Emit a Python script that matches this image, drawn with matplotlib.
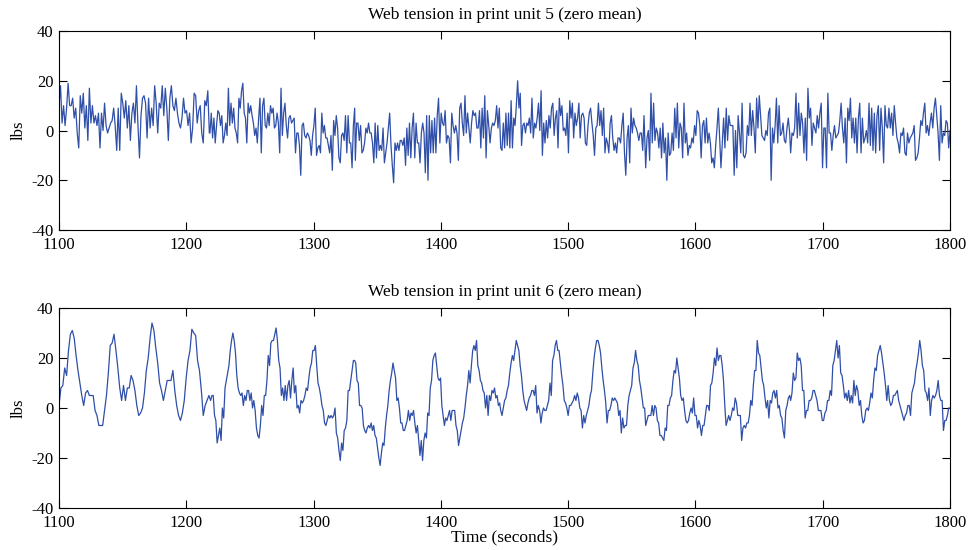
import numpy as np
import matplotlib
matplotlib.use("Agg")
import matplotlib.pyplot as plt

# readings of web tension (lbs, zero mean) in six time windows
seg_start_top = [1100, 1218.6, 1332.8, 1447.0, 1560.9, 1674.8]
seg_end_top = [1218.1, 1332.3, 1445.9, 1559.6, 1674.0, 1800]

unit5_a = [10, 18, 3, 10, 2, 9, 19, 10, 10, 13, 5, 9, -1, -7, 14, 7, 15, 1, 10, -4, 17, 3, 10, 3, 6, 2, 7,
           -7, 7, 0, 11, 2, -1, 1, 3, 4, 9, 2, -8, 9, -8, 15, 11, 5, 12, 1, 10, -4, 7, 11, 3, 18, 2, -11, 6,
           13, 14, 11, -3, 13, 1, 9, 2, 18, 11, -1, 11, 9, 18, 6, 17, 9, -4, 13, 18, 10, 8, 13, 7, 3, 1, 5,
           13, 7, 8, 2, 7, -5, 1, 15, 14, 3, 8, 10, -1, -5, 12, 10, 16, -1]
unit5_b = [-1, 7, -3, 5, -5, 2, 8, 7, 2, 6, -5, -2, 3, -2, 17, 2, 11, 3, 9, 1, -1, -5, 13, 9, 16, 19, 7, 5,
           -5, 11, 7, 10, 6, 3, -2, 1, -5, 5, 13, -9, 10, 13, 2, 1, 7, 2, 10, 7, 9, 1, 2, 7, 3, -9, 17, -2,
           7, 11, 2, -3, 5, 6, 3, 4, 5, -9, -1, -1, -6, -18, 2, 3, -2, -3, -1, -2, -4, -10, -2, 2, 9, -10,
           -7, -6, -9, 7, -1, 2, -3, -3, -6, -9, -2, -16, 4, -2, 6, 1, -11, -13, -2, -1, -4, 6, -9, 6, -5,
           -5, -15, 2, 9]
unit5_c = [-12, 3, 3, -4, 2, -9, -8, -5, 1, -1, 3, -1, -1, -5, -13, 3, -11, 2, -8, -6, -8, 1, -13, -9, -5,
           1, 7, -6, -14, -21, -5, -8, -5, -8, -4, -4, -6, -3, -14, 1, -10, 3, -11, 1, 7, -11, 3, -5, -5,
           -13, -1, 3, -1, -17, 6, -20, 6, -9, 4, -9, 5, -9, 6, 13, -5, 7, 3, 2, 8, -5, -2, -3, -13, 7, 2,
           -1, 2, -1, -12, 9, 11, 3, -2, 14, -1, 7, 1, -5, 3, 8, 6, 7, 1, 1, 8, -7, 9, -3, 14, -11, 8, 2,
           -5, 1, 3, 2, 4, 10, 1, 9]
unit5_d = [-7, -8, 3, -7, 7, -6, 7, -7, 12, -7, 5, 2, 10, 20, 9, 15, -6, 2, 3, -1, 3, 2, 5, -1, 13, -3, 3,
           1, 5, 11, 0, 16, -10, 3, -5, 4, -3, 6, 1, 9, 11, -2, 5, 8, -7, 13, 6, 10, 0, 1, -2, 7, -9, 12,
           5, 11, -3, 7, 2, 5, 11, -3, 6, 7, 5, -5, -6, 2, 7, 9, 3, -2, -10, 1, 2, 11, 2, 8, -2, 9, -9, -3,
           -5, -9, 3, 6, -3, -8, -5, -9, -3, -3, -5, 2, 7, -9, -18, -3, 2, -13, 9, -1, 5, 2, 1, -1, -4, -1,
           -1, -8, 6]
unit5_e = [-15, -3, 0, -12, 15, -5, 11, -4, 1, -1, -7, 1, -11, 3, -9, -3, -20, -1, -10, -9, -1, -8, 9, -3,
           11, -7, 3, 1, -11, 11, -5, -1, -10, -6, -7, -3, -5, 2, -2, 8, 7, 2, -11, 2, 4, -5, 5, -5, -1, -5,
           -13, -11, -15, -6, 1, 9, -3, -15, -5, 5, -7, 9, -4, 6, 2, 2, 2, -18, 0, -15, 6, -1, -9, 11, -10,
           -11, -9, 2, -2, 11, -2, 8, 1, -9, 13, 1, 14, 6, -2, -3, -4, 0, -2, 7, 9, -20, 1, -5, 2, 13, -5,
           10, -2, -1, 3, -4, -5, 1, 5, -1]
unit5_f = [-9, -1, -2, 1, 15, -3, 11, -2, 7, 3, -9, 5, -12, 17, 5, 9, -6, 3, 1, -1, 6, 1, 7, 11, -15, 1, 1,
           -15, 15, -1, -1, -8, -2, 2, -3, -2, -1, 4, 11, 1, -5, 5, -13, 9, 4, 13, -3, 5, -5, 5, -9, 5, 11,
           -9, 5, -5, -3, 0, -5, 11, -6, 9, -8, 7, -9, 6, 10, -8, 9, 1, -13, 10, 2, 1, 9, 1, 7, -2, 10, 3,
           -3, -5, -9, -1, -2, 1, -9, -10, -1, -5, -3, -2, -1, 2, -12, -11, -9, -3, 4, 2, 7, 11, -1, 2, -2,
           3, 7, 1, 9, 13, 6, -1, -12, 10, -5, -1, -2, 4, 3, -7, 0]

seg_start_bot = [1100, 1219.1, 1333.1, 1447.0, 1560.9, 1674.8]
seg_end_bot = [1217.8, 1332.3, 1446.2, 1560.1, 1674.0, 1800]

unit6_a = [1, 8, 9, 16, 13, 23, 29.5, 31, 28, 21, 15, 10, 5, 1, 6, 7, 5, 5, 5, -1, -3, -7, -7, -7, -1, 5,
           14, 25, 26, 29.5, 23, 16, 8, 3, 9, 3, 8, 8, 13, 11, 7, 1, -3, -2, 0, 6, 15, 20, 28, 34, 31, 24,
           18, 10, 7, 3, 7, 11, 11, 11, 15, 7, 1, -3, -5, -2, 3, 12, 19, 23, 31.5, 30, 29, 19, 15, 7, -3,
           1, 3, 5]
unit6_b = [3, 5, 5, -3, -5, -14, -11, -8, -13, 0, -4, 8, 11, 14, 17, 23, 27, 30, 27, 22, 13, 8, 6, 5, 6, 1,
           5, 3, 7, 7, 3, 6, 0, 3, -1, -8, -11, -12, -7, 1, -3, 5, 5, 11, 21, 17, 26, 27, 27, 29.5, 32, 27,
           19, 16, 5, 8, 3, 9, 3, 9, 11, 4, 11, 16, 6, 9, 0, 1, -2, 3, 2, 3, 5, 8, 7, 12, 16, 18, 23, 23,
           25, 17, 10, 8, 5, 1, -1, -6, -7, -5, -3, -4, -3, -4, -3, 0, -10, -12, -17, -21, -14, -17, -9,
           -8, -5, 7, 7, 11, 15, 19, 19]
unit6_c = [18, 11, 10, 1, 1, 0, -7, -9, -10, -8, -7, -8, -6, -9, -7, -11, -12, -16, -20, -23, -18, -14,
           -15, -8, -3, 1, 7, 11, 14, 18, 15, 12, 3, 4, 0, -6, -6, -9, -9, -7, -5, -1, -5, -2, -3, -1, -6,
           -10, -7, -13, -19, -13, -21, -13, -10, -12, -2, -3, 8, 11, 19, 21, 22, 17, 12, 11, 12, 1, -3,
           -7, -4, -5, -3, -1, -5, -1, -1, -1, -7, -9, -15, -12, -9, -6, -4, 0, 5, 9, 15, 10, 17, 23, 25,
           23, 27, 17, 15, 11, 10, 7, 6, 0, 5, -3, 5, 3, 7, 6, 8, 4, 5, 1, 2]
unit6_d = [-1, -3, 0, 3, 4, 7, 9, 14, 18, 21, 19, 23, 27, 25, 23, 17, 13, 7, 3, 1, -1, 2, 4, 5, 7, 7, 5, 9,
           -2, 1, -1, -6, -2, 0, -1, -1, 1, 3, 10, 5, 19, 21, 25, 27, 23, 23, 18, 13, 9, 3, 2, 0, -3, 1, 1,
           2, 3, 5, 3, 6, 4, 0, -1, -8, -3, -6, -3, -1, 1, 5, 7, 14, 20, 24, 27, 27, 25, 22, 16, 11, 7, 2,
           -6, -1, -1, 1, 4, 3, 4, 3, 2, -3, -1, -10, -4, -8, -7, -7, 1, 5, 7, 9, 16, 18, 23, 19, 17, 11, 8,
           4, 0, 0]
unit6_e = [-7, -5, -3, -3, -3, 1, -3, 1, 0, -5, -6, -11, -11, -12, -13, -8, -9, 1, 1, 4, 5, 11, 15, 14, 20,
           16, 12, 5, 3, 4, -1, -5, -6, -5, -2, 0, -2, 4, -3, -3, -8, -5, -7, -11, -7, -7, -3, 1, 1, -1, 9,
           10, 14, 20, 17, 24, 19, 21, 21, 17, 11, 1, -7, -5, -3, -5, -3, 0, -1, 4, 2, -3, -3, -3, -13, -8,
           -7, -8, -6, -6, -3, 3, 1, 9, 15, 15, 27, 22, 21, 16, 11, 9, 4, 0, 3, -4, 3, 2, 6, 7, 4, 7, 0, 1,
           -3, -4, -9, -12, -1, 1, 4, 5]
unit6_f = [3, 6, 14, 11, 12, 22, 19, 20, 17, 7, 7, -4, -1, -1, 3, 3, 4, 7, 7, 5, 3, -1, -1, -1, -5, -5, -2,
           -1, 3, 3, 7, 5, 17, 19, 23, 27, 20, 25, 14, 13, 9, 4, 6, 3, 7, 2, 5, 2, 11, 5, 9, 7, 1, 3, -3,
           -6, -5, -1, 0, -1, 2, 6, 4, 11, 16, 15, 21, 23, 25, 22, 18, 14, 9, 3, 9, 3, 1, 2, 5, 5, 6, 7, 3,
           1, -1, -3, -5, -3, -2, 1, 1, -3, 6, 8, 10, 15, 18, 22, 27, 23, 17, 15, 7, 6, 3, 8, -3, 3, 5, 4,
           5, 7, 11, 5, 3, 3, -9, -5, -5, -3, 0, 0]

titles = ["Web tension in print unit 5 (zero mean)", "Web tension in print unit 6 (zero mean)"]
x_ticks = [1100, 1200, 1300, 1400, 1500, 1600, 1700, 1800]
y_ticks = [-40, -20, 0, 20, 40]


def join_segments(starts, ends, segs):
    t, v = [], []
    for a, b, s in zip(starts, ends, segs):
        t.append(np.linspace(a, b, len(s)))
        v.append(np.array(s, dtype=float))
    return np.concatenate(t), np.concatenate(v)


t5, v5 = join_segments(seg_start_top, seg_end_top, [unit5_a, unit5_b, unit5_c, unit5_d, unit5_e, unit5_f])
t6, v6 = join_segments(seg_start_bot, seg_end_bot, [unit6_a, unit6_b, unit6_c, unit6_d, unit6_e, unit6_f])

plt.rcParams["font.family"] = ["Liberation Serif", "DejaVu Serif"]
plt.rcParams["font.size"] = 12
plt.rcParams["axes.unicode_minus"] = False

fig = plt.figure(figsize=(9.72, 5.5), dpi=100)
ax1 = fig.add_axes([0.0607, 0.5818, 0.9167, 0.3618])
ax2 = fig.add_axes([0.0607, 0.0764, 0.9167, 0.3636])

for ax, t, v, title in [(ax1, t5, v5, titles[0]), (ax2, t6, v6, titles[1])]:
    ax.plot(t, v, color="#2f4fa8", linewidth=0.9)
    ax.set_xlim(1100, 1800)
    ax.set_ylim(-40, 40)
    ax.set_xticks(x_ticks)
    ax.set_yticks(y_ticks)
    ax.set_title(title, fontsize=12.5, pad=9)
    ax.set_ylabel("lbs", fontsize=12, labelpad=3)
    ax.tick_params(axis="both", direction="in", top=True, right=True, length=6, width=0.8, labelsize=12)
    ax.tick_params(axis="x", pad=5)
    ax.tick_params(axis="y", pad=4)
    for sp in ax.spines.values():
        sp.set_linewidth(0.8)

ax2.set_xlabel("Time (seconds)", fontsize=12.5, labelpad=-1)

fig.savefig("out.png", dpi=100)
plt.close(fig)
